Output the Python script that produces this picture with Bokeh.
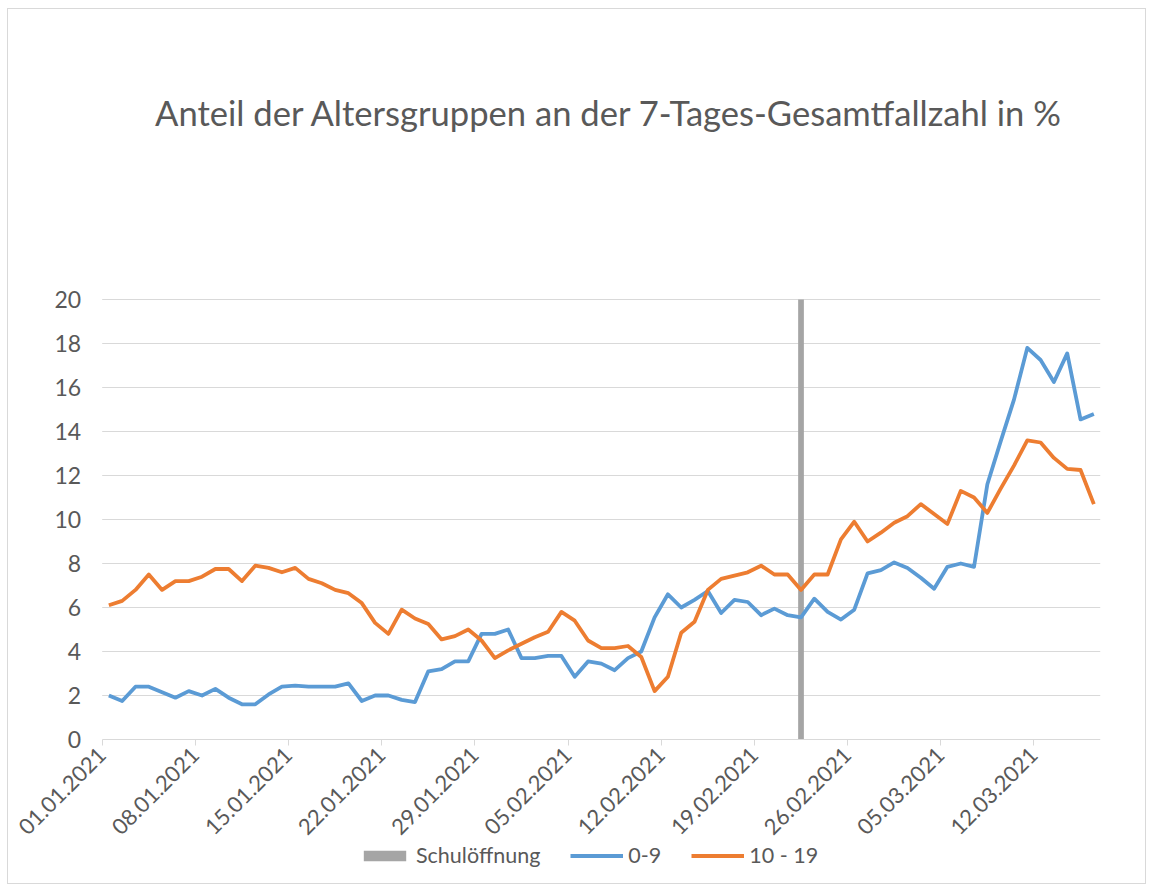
import math
from bokeh.plotting import figure
from bokeh.models import (ColumnDataSource, FixedTicker, Label, Legend, LegendItem, Range1d,
                          LinearAxis)
from bokeh.embed import file_html
from bokeh.resources import INLINE

# ---- data ----
tick_labels = ["01.01.2021", "08.01.2021", "15.01.2021", "22.01.2021", "29.01.2021",
               "05.02.2021", "12.02.2021", "19.02.2021", "26.02.2021", "05.03.2021",
               "12.03.2021"]
n_days = 75  # 01.01.2021 .. 16.03.2021
age_0_9 = [2.0, 1.75, 2.4, 2.4, 2.15, 1.9, 2.2, 2.0, 2.3, 1.9,
           1.6, 1.6, 2.05, 2.4, 2.45, 2.4, 2.4, 2.4, 2.55, 1.75,
           2.0, 2.0, 1.8, 1.7, 3.1, 3.2, 3.55, 3.55, 4.8, 4.8,
           5.0, 3.7, 3.7, 3.8, 3.8, 2.85, 3.55, 3.45, 3.15, 3.7,
           4.0, 5.55, 6.6, 6.0, 6.35, 6.75, 5.75, 6.35, 6.25, 5.65,
           5.95, 5.65, 5.55, 6.4, 5.8, 5.45, 5.9, 7.55, 7.7, 8.05,
           7.8, 7.35, 6.85, 7.85, 8.0, 7.85, 11.6, 13.55, 15.45, 17.8,
           17.25, 16.25, 17.55, 14.55, 14.8]
age_10_19 = [6.1, 6.3, 6.8, 7.5, 6.8, 7.2, 7.2, 7.4, 7.75, 7.75,
             7.2, 7.9, 7.8, 7.6, 7.8, 7.3, 7.1, 6.8, 6.65, 6.2,
             5.3, 4.8, 5.9, 5.5, 5.25, 4.55, 4.7, 5.0, 4.5, 3.7,
             4.05, 4.35, 4.65, 4.9, 5.8, 5.4, 4.5, 4.15, 4.15, 4.25,
             3.75, 2.2, 2.85, 4.85, 5.35, 6.8, 7.3, 7.45, 7.6, 7.9,
             7.5, 7.5, 6.8, 7.5, 7.5, 9.1, 9.9, 9.0, 9.4, 9.85,
             10.15, 10.7, 10.25, 9.8, 11.3, 11.0, 10.3, 11.4, 12.45, 13.6,
             13.5, 12.8, 12.3, 12.25, 10.7]
school_opening_day = 52   # 22.02.2021
school_opening_value = 20
y_ticks = list(range(0, 21, 2))

# ---- styles ----
BLUE = "#5B9BD5"
ORANGE = "#ED7D31"
GRAY = "#A5A5A5"
TEXT = "#595959"
GRID = "#D9D9D9"
FONT = "Lato"

day_index = list(range(n_days))
x_centers = [d + 0.5 for d in day_index]

src = ColumnDataSource(dict(x=x_centers, a=age_0_9, b=age_10_19))
bar_src = ColumnDataSource(dict(x=[school_opening_day + 0.5], top=[school_opening_value]))
grid_src = ColumnDataSource(dict(y=y_ticks[1:], x0=[0] * (len(y_ticks) - 1),
                                 x1=[n_days] * (len(y_ticks) - 1)))

# frame covers the whole chart area; axes are drawn at x = 0 and y = 0 inside it
p = figure(width=1139, height=876, output_backend="svg", toolbar_location=None,
           x_range=Range1d(-7.04, n_days), y_range=Range1d(-6.5, 30),
           x_axis_location=None, y_axis_location=None,
           min_border_left=0, min_border_right=47, min_border_top=70, min_border_bottom=3,
           title=None)
p.styles = {"border": "1px solid #D9D9D9", "margin": "8px 0px 0px 7px"}
p.outline_line_color = None
p.background_fill_color = "white"
p.border_fill_color = "white"
for g in p.grid:
    g.visible = False

# horizontal gridlines limited to the plot area
p.segment(x0="x0", x1="x1", y0="y", y1="y", source=grid_src, line_color=GRID, line_width=1)

bar = p.vbar(x="x", top="top", bottom=0, width=0.43, source=bar_src,
             fill_color=GRAY, line_color=None)
l1 = p.line("x", "a", source=src, line_color=BLUE, line_width=3.8, line_join="round")
l2 = p.line("x", "b", source=src, line_color=ORANGE, line_width=3.8, line_join="round")

# y axis at x = 0
yaxis = LinearAxis(fixed_location=0, ticker=FixedTicker(ticks=y_ticks),
                   axis_line_color=None, major_tick_line_color=None, minor_tick_line_color=None,
                   major_label_text_font=FONT, major_label_text_font_size="23px",
                   major_label_text_color=TEXT, major_label_standoff=15)
p.add_layout(yaxis, "left")

# x axis at y = 0
tick_pos = [i * 7 for i in range(len(tick_labels))]
xaxis = LinearAxis(fixed_location=0, ticker=FixedTicker(ticks=tick_pos),
                   bounds=(0, n_days),
                   major_label_overrides={t: lab for t, lab in zip(tick_pos, tick_labels)},
                   major_label_orientation=math.pi / 4,
                   axis_line_color=GRID, major_tick_line_color=GRID,
                   major_tick_out=6, major_tick_in=0, minor_tick_line_color=None,
                   major_label_text_font=FONT, major_label_text_font_size="22px",
                   major_label_text_color=TEXT, major_label_standoff=6)
p.add_layout(xaxis, "below")

# title (inside the extended frame)
title = Label(x=38.1, y=28.5, text="Anteil der Altersgruppen an der 7-Tages-Gesamtfallzahl in %",
              text_font=FONT, text_font_size="34.6px", text_color=TEXT,
              text_align="center", text_baseline="middle")
p.add_layout(title)

legend = Legend(items=[LegendItem(label="Schulöffnung", renderers=[bar]),
                       LegendItem(label="0-9", renderers=[l1]),
                       LegendItem(label="10 - 19", renderers=[l2])],
                orientation="horizontal", location=(350, 14),
                glyph_width=53, glyph_height=13, label_standoff=5, spacing=30,
                padding=0, margin=0, border_line_color=None, background_fill_alpha=0,
                label_text_font=FONT, label_text_font_size="21.5px", label_text_color=TEXT)
p.add_layout(legend, "center")

open("out.html", "w").write(file_html(p, INLINE))
